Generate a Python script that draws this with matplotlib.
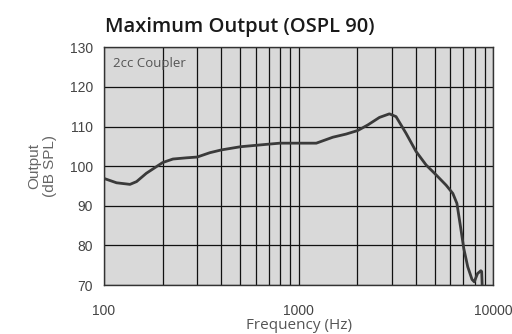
# Maximum Output (OSPL 90) - кривая ответа на 2cc каплере

import matplotlib.pyplot as plt
from matplotlib.ticker import LogLocator, NullFormatter, FixedLocator, FixedFormatter

# Данные
freq = [100, 116, 136, 147, 165, 200, 226, 265, 301, 350, 401, 502, 682, 800,
        1000, 1231, 1496, 1752, 2010, 2264, 2597, 2922, 3160, 3556, 4005, 4508,
        5074, 5712, 6187, 6490, 6774, 7041, 7377, 7759, 7970, 8285, 8613, 8700, 8750]
spl = [96.9, 95.8, 95.4, 96.1, 98.2, 100.9, 101.8, 102.1, 102.3, 103.4, 104.1, 104.9,
       105.5, 105.8, 105.8, 105.8, 107.3, 108.1, 109.0, 110.4, 112.3, 113.2, 112.5,
       108.3, 103.7, 100.3, 97.8, 95.2, 93.1, 90.6, 84.7, 79.2, 74.6, 71.4, 70.8,
       72.9, 73.6, 73.4, 70.0]

x_ticks = [100, 1000, 10000]
x_labels = ['100', '1000', '10000']
y_ticks = [70, 80, 90, 100, 110, 120, 130]

fig = plt.figure(figsize=(5.12, 3.34), dpi=100)
ax = fig.add_axes([0.2031, 0.1467, 0.7607, 0.7117])
ax.set_facecolor('#d9d9d9')

ax.plot(freq, spl, color='#3a3a3a', linewidth=2, solid_capstyle='round', zorder=3)

ax.set_xscale('log')
ax.set_xlim(100, 10000)
ax.set_ylim(70, 130)

ax.xaxis.set_major_locator(FixedLocator(x_ticks))
ax.xaxis.set_major_formatter(FixedFormatter(x_labels))
ax.xaxis.set_minor_locator(LogLocator(base=10, subs=range(2, 10)))
ax.xaxis.set_minor_formatter(NullFormatter())
ax.set_yticks(y_ticks)

ax.grid(True, which='both', axis='x', color='#111111', linewidth=0.9)
ax.grid(True, which='major', axis='y', color='#111111', linewidth=0.9)

ax.tick_params(which='both', length=0)
ax.tick_params(axis='y', pad=8, labelsize=10, labelcolor='#444444')
ax.tick_params(axis='x', pad=14, labelsize=10, labelcolor='#444444')
for lab in ax.get_xticklabels() + ax.get_yticklabels():
    lab.set_family('Liberation Sans')

for s in ax.spines.values():
    s.set_color('#333333')
    s.set_linewidth(1)

ax.set_xlabel('Frequency (Hz)', fontsize=11, color='#555555', family='Open Sans', labelpad=0)
ax.set_ylabel('Output\n(dB SPL)', fontsize=11, color='#666666', family='Liberation Sans',
              linespacing=1.2, labelpad=9)

ax.text(0.022, 0.93, '2cc Coupler', transform=ax.transAxes, fontsize=9.5,
        color='#555555', family='Open Sans', va='center', ha='left')

fig.text(0.205, 0.92, 'Maximum Output (OSPL 90)', fontsize=14.5, family='Open Sans',
         fontweight='semibold', color='#1a1a1a', ha='left', va='center')

plt.savefig('out.png', dpi=100)
